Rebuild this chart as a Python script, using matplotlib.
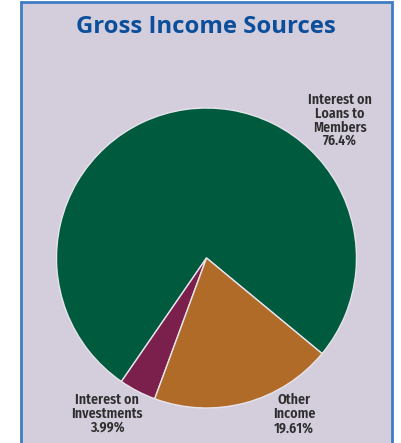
import matplotlib
matplotlib.use("Agg")
import matplotlib.pyplot as plt
from matplotlib.patches import Rectangle

categories = ["Interest on\nLoans to\nMembers", "Interest on\nInvestments", "Other\nIncome"]
values = [76.4, 3.99, 19.61]
value_labels = ["76.4%", "3.99%", "19.61%"]
colors = ["#005a3e", "#7b1f4c", "#b06b29"]

W, H = 401, 443
fig = plt.figure(figsize=(W / 100, H / 100), dpi=100)
fig.patch.set_facecolor("white")

def px(x, y):
    return x / W, 1 - y / H

# panel background with blue border
bg = Rectangle((20.5 / W, -0.05), (392 - 20.5) / W, 1 - 2.5 / H + 0.05,
               transform=fig.transFigure, facecolor="#d3cddc", edgecolor="#3f7cc4",
               linewidth=2, zorder=-10)
fig.patches.append(bg)

cx, cy, r = 206.5, 258, 150
ax = fig.add_axes([(cx - r) / W, (H - cy - r) / H, 2 * r / W, 2 * r / H], zorder=5)
ax.pie(values, colors=colors, startangle=-39.6, counterclock=True,
       wedgeprops=dict(edgecolor="#e8e4ec", linewidth=1))
ax.set_xlim(-1, 1)
ax.set_ylim(-1, 1)
ax.set_aspect("auto")
ax.axis("off")

fig.text(*px(205.5, 33), "Gross Income Sources", ha="center", va="baseline",
         fontsize=17.2, fontweight="bold", color="#0b4f9c", family=["Open Sans", "DejaVu Sans"],
         zorder=10)

lab_font = dict(fontsize=10, fontweight=600, color="#2e2e2e", ha="center", va="baseline",
                family=["Fira Sans Condensed", "DejaVu Sans"], zorder=10)
pos = [(340, 104.5), (107, 404), (294, 404.5)]
pitch = [13.5, 14, 14]
for (x, y), p, c, v in zip(pos, pitch, categories, value_labels):
    lines = (c + "\n" + v).split("\n")
    for i, ln in enumerate(lines):
        fig.text(*px(x, y + i * p), ln, **lab_font)

fig.savefig("out.png", dpi=100)
